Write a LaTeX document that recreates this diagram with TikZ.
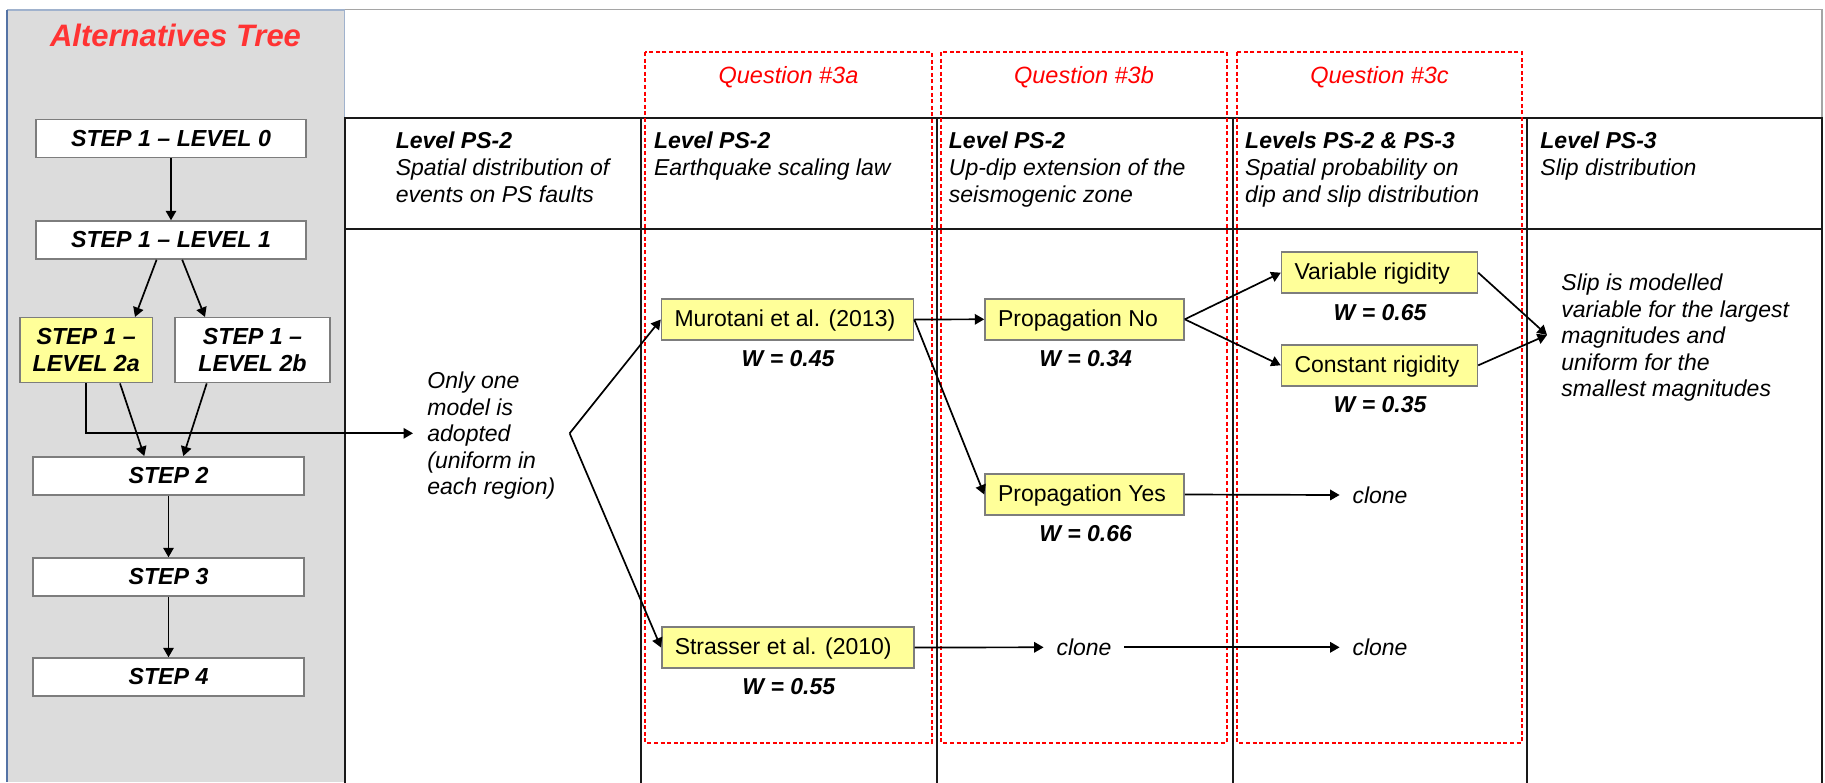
\documentclass[tikz,border=0pt]{standalone}
\usepackage{fontspec}
\setmainfont{Liberation Sans}
\usetikzlibrary{arrows.meta}

\definecolor{panelgray}{RGB}{220,220,220}
\definecolor{panelblue}{RGB}{84,115,165}
\definecolor{paneltop}{RGB}{160,178,205}
\definecolor{framegray}{RGB}{165,165,165}
\definecolor{edgegray}{RGB}{125,125,125}
\definecolor{boxyellow}{RGB}{255,255,153}
\definecolor{qred}{RGB}{255,0,0}
\definecolor{titlered}{RGB}{255,51,51}

% left-aligned label of fixed width inside a choice box
\newcommand{\choicetext}[2]{\makebox[#1][l]{#2}}
% invisible strut that balances the first line of a multi-line note
\newcommand{\notestrut}{\rule{0pt}{0.95em}}

\tikzset{
  stepbox/.style={draw=edgegray, line width=0.75pt, fill=white, inner sep=0pt,
    minimum height=19pt, align=center,
    font=\fontsize{11.6pt}{13.5pt}\selectfont\bfseries\itshape},
  choice/.style={draw=edgegray, line width=0.75pt, fill=boxyellow,
    inner xsep=6.5pt, inner ysep=0pt, minimum height=20.5pt,
    text height=0.9em, text depth=0.2em,
    font=\fontsize{11.5pt}{13pt}\selectfont},
  weight/.style={inner sep=0pt, anchor=base,
    font=\fontsize{11.5pt}{13pt}\selectfont\bfseries\itshape},
  clonetxt/.style={inner xsep=6.25pt, inner ysep=0pt,
    font=\fontsize{11.5pt}{13pt}\selectfont\itshape},
  note/.style={inner xsep=7pt, inner ysep=0pt, anchor=west, align=left,
    font=\fontsize{11.5pt}{13.25pt}\selectfont\itshape},
  headtxt/.style={inner sep=0pt, anchor=north west, align=left,
    font=\fontsize{11.5pt}{13.5pt}\selectfont\itshape},
  question/.style={inner sep=0pt, anchor=base, text=qred,
    font=\fontsize{11.75pt}{13pt}\selectfont\itshape},
  qframe/.style={draw=qred, line width=0.9pt, dash pattern=on 2pt off 1.3pt},
  grid/.style={draw=black!90, line width=1pt},
  link/.style={line width=0.85pt, -{Triangle[length=4.75pt,width=5.25pt]}}
}

\begin{document}
\begin{tikzpicture}[x=0.5pt, y=-0.5pt]
\useasboundingbox (0,0) rectangle (1825,782);

% left panel
\fill[panelgray] (7,10) rectangle (344.5,782);
\draw[paneltop, line width=0.6pt] (7,10) -- (344.5,10) -- (344.5,117.5);
\draw[panelblue, line width=0.7pt] (7,10) -- (7,782);

% outer frame of the table area
\draw[framegray, line width=0.75pt] (344.5,9.5) -- (1822,9.5) -- (1822,117.5);

% header row and column rules
\draw[grid] (344.5,117.5) rectangle (1822,229);
\foreach \cx in {641,937,1232.6,1527}
  \draw[grid] (\cx,117.5) -- (\cx,790);
\draw[grid] (344.5,229) -- (344.5,790);
\draw[grid] (1822,229) -- (1822,790);

% question frames
\draw[qframe] (645,52) rectangle (932,742.6);
\draw[qframe] (941,52) rectangle (1227,742.6);
\draw[qframe] (1237,52) rectangle (1522,742.6);

\node[question] (q3a) at (788.5,83.4) {Question \#3a};
\node[question] (q3b) at (1084,83.4) {Question \#3b};
\node[question] (q3c) at (1379.5,83.4) {Question \#3c};

% title of the left panel
\node[text=titlered, inner sep=0pt, font=\fontsize{15.5pt}{17pt}\selectfont\bfseries\itshape]
  (title) at (175.5,35) {Alternatives Tree};

% header texts
\node[headtxt] (h1) at (395.4,131) {\textbf{Level PS-2}\\Spatial distribution of\\events on PS faults};
\node[headtxt] (h2) at (653.6,131) {\textbf{Level PS-2}\\Earthquake scaling law};
\node[headtxt] (h3) at (948.5,131) {\textbf{Level PS-2}\\Up-dip extension of the\\seismogenic zone};
\node[headtxt] (h4) at (1244.8,131) {\textbf{Levels PS-2 \& PS-3}\\Spatial probability on\\dip and slip distribution};
\node[headtxt] (h5) at (1540,131) {\textbf{Level PS-3}\\Slip distribution};

% alternatives tree
\node[stepbox, minimum width=135pt] (l0) at (171,138.3) {STEP 1 -- LEVEL 0};
\node[stepbox, minimum width=135pt] (l1) at (171,240) {STEP 1 -- LEVEL 1};
\node[stepbox, minimum width=66.2pt, minimum height=32.5pt, fill=boxyellow] (l2a) at (86.2,350.2) {STEP 1 --\\LEVEL 2a};
\node[stepbox, minimum width=77.5pt, minimum height=32.5pt] (l2b) at (252.5,350.2) {STEP 1 --\\LEVEL 2b};
\node[stepbox, minimum width=135.5pt] (s2) at (168.5,475.8) {STEP 2};
\node[stepbox, minimum width=135.5pt] (s3) at (168.5,577) {STEP 3};
\node[stepbox, minimum width=135.5pt] (s4) at (168.5,677) {STEP 4};

\draw[link] (l0.south) -- (l1.north);
\draw[link] ([xshift=-7.2pt]l1.south) -- ([xshift=24.4pt]l2a.north);
\draw[link] ([xshift=5.6pt]l1.south) -- ([xshift=-23.75pt]l2b.north);
\draw[link] ([xshift=16.9pt]l2a.south) -- ([xshift=-12.1pt]s2.north);
\draw[link] ([xshift=-22.9pt]l2b.south) -- ([xshift=7.4pt]s2.north);
\draw[link] (s2.south) -- (s3.north);
\draw[link] (s3.south) -- (s4.north);

% notes
\node[note] (only) at (413,433.3) {\notestrut Only one\\model is\\adopted\\(uniform in\\each region)};
\node[note] (slip) at (1547,335) {\notestrut Slip is modelled\\variable for the largest\\magnitudes and\\uniform for the\\smallest magnitudes};

% model choices
\node[choice] (mur) at (787.5,319.5) {\choicetext{113pt}{Murotani et al. (2013)}};
\node[choice] (str) at (787.75,647.5) {\choicetext{113pt}{Strasser et al. (2010)}};
\node[choice] (pno) at (1084.5,319.3) {\choicetext{86.5pt}{Propagation No}};
\node[choice] (pyes) at (1084.5,494.5) {\choicetext{86.5pt}{Propagation Yes}};
\node[choice] (var) at (1379.5,272.7) {\choicetext{85pt}{Variable rigidity}};
\node[choice] (con) at (1379.5,365.3) {\choicetext{85pt}{Constant rigidity}};

\node[weight] (w45) at (788,366.5) {W = 0.45};
\node[weight] (w55) at (788.8,694.9) {W = 0.55};
\node[weight] (w34) at (1085.6,366.5) {W = 0.34};
\node[weight] (w66) at (1085.6,541.5) {W = 0.66};
\node[weight] (w65) at (1380,320.9) {W = 0.65};
\node[weight] (w35) at (1380,412.5) {W = 0.35};

\node[clonetxt] (c1) at (1084,647.3) {clone};
\node[clonetxt] (c2) at (1380,647.3) {clone};
\node[clonetxt] (c3) at (1380,495) {clone};

% connectors
\draw[link] (l2a.south) |- (only.west);
\draw[link] (only.east) -- (mur.west);
\draw[link] (only.east) -- (str.west);
\draw[link] (mur.east) -- (pno.west);
\draw[link] (mur.east) -- (pyes.west);
\draw[link] (pno.east) -- (var.west);
\draw[link] (pno.east) -- (con.west);
\draw[link] (var.east) -- (slip.west);
\draw[link] (con.east) -- (slip.west);
\draw[link] (pyes.east) -- (c3.west);
\draw[link] (str.east) -- (c1.west);
\draw[link] (c1.east) -- (c2.west);
\end{tikzpicture}
\end{document}
